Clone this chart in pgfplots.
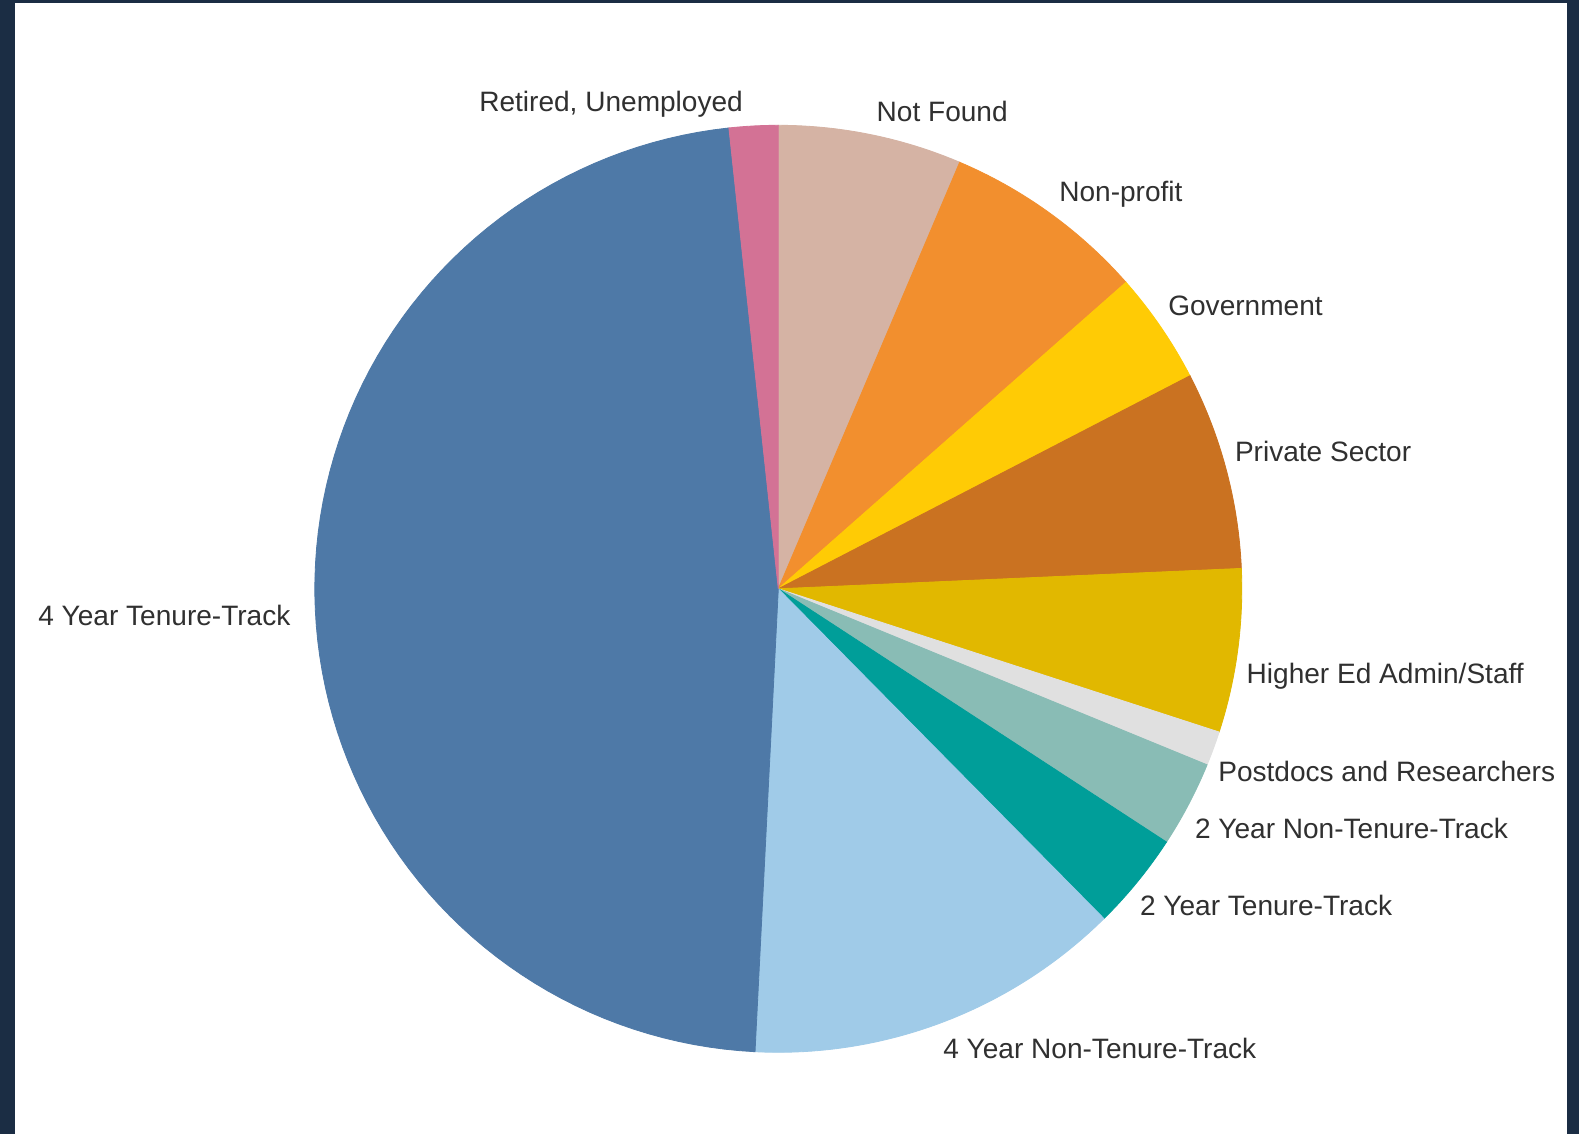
\documentclass[border=0pt]{standalone}
\usepackage{pgfplots}
\usepackage{pgfplotstable}
\usepackage{fontspec}
\setmainfont{Liberation Sans}
\pgfplotsset{compat=1.18}
\definecolor{frameblue}{HTML}{1B2D44}
\definecolor{labeltxt}{HTML}{303030}
\definecolor{c0}{HTML}{D5B3A4}
\definecolor{c1}{HTML}{F28F2E}
\definecolor{c2}{HTML}{FFCB05}
\definecolor{c3}{HTML}{CA7221}
\definecolor{c4}{HTML}{E1B800}
\definecolor{c5}{HTML}{E0E0E0}
\definecolor{c6}{HTML}{89BCB5}
\definecolor{c7}{HTML}{009E99}
\definecolor{c8}{HTML}{A0CBE8}
\definecolor{c9}{HTML}{4E79A7}
\definecolor{c10}{HTML}{D37295}

% share of each category (percent), clockwise from 12 o'clock
\pgfplotstableread{
slice value
0 6.4
1 7.1
2 3.9
3 6.9
4 5.7
5 1.2
6 3.0
7 3.4
8 13.2
9 47.5
10 1.7
}\piedata

\begin{document}
\begin{tikzpicture}
\begin{axis}[
  width=568.44pt, height=408.24pt, scale only axis,
  xmin=0, xmax=1579, ymin=0, ymax=1134,
  hide axis, clip=false,
]
\fill[frameblue] (axis cs:0,0) rectangle (axis cs:1579,1134);
\fill[white] (axis cs:15,0) rectangle (axis cs:1567,1131);
\def\cx{778.3}\def\cy{545.2}\def\rr{463.5}
\gdef\startang{0}
\pgfplotsforeachungrouped \i in {0,...,10}{%
  \pgfplotstablegetelem{\i}{value}\of\piedata
  \pgfmathsetmacro\endang{\startang+3.6*\pgfplotsretval}%
  \edef\doslice{\noexpand\addplot[fill=c\i, draw=c\i, line width=0.3pt, domain=\startang:\endang, samples=90, forget plot] ({\cx+\rr*sin(x)},{\cy+\rr*cos(x)}) -- (axis cs:\cx,\cy) -- cycle;}%
  \doslice
  \global\let\startang\endang
}
\begin{scope}[every node/.style={anchor=base west, inner sep=0pt, outer sep=0pt, text=labeltxt, font=\fontsize{10.1}{12}\selectfont}]
\node at (axis cs:479.3,1022.3) {Retired, Unemployed};
\node at (axis cs:876.7,1012.3) {Not Found};
\node at (axis cs:1059.3,932.3) {Non-profit};
\node at (axis cs:1168.3,818.3) {Government};
\node at (axis cs:1235,673) {Private Sector};
\node at (axis cs:1246.7,450.7) {Higher Ed Admin/Staff};
\node at (axis cs:1218.3,352.3) {Postdocs and Researchers};
\node at (axis cs:1195,295.7) {2 Year Non-Tenure-Track};
\node at (axis cs:1140,219) {2 Year Tenure-Track};
\node at (axis cs:943.3,75.7) {4 Year Non-Tenure-Track};
\node at (axis cs:38.3,509) {4 Year Tenure-Track};
\end{scope}
\end{axis}
\end{tikzpicture}
\end{document}
